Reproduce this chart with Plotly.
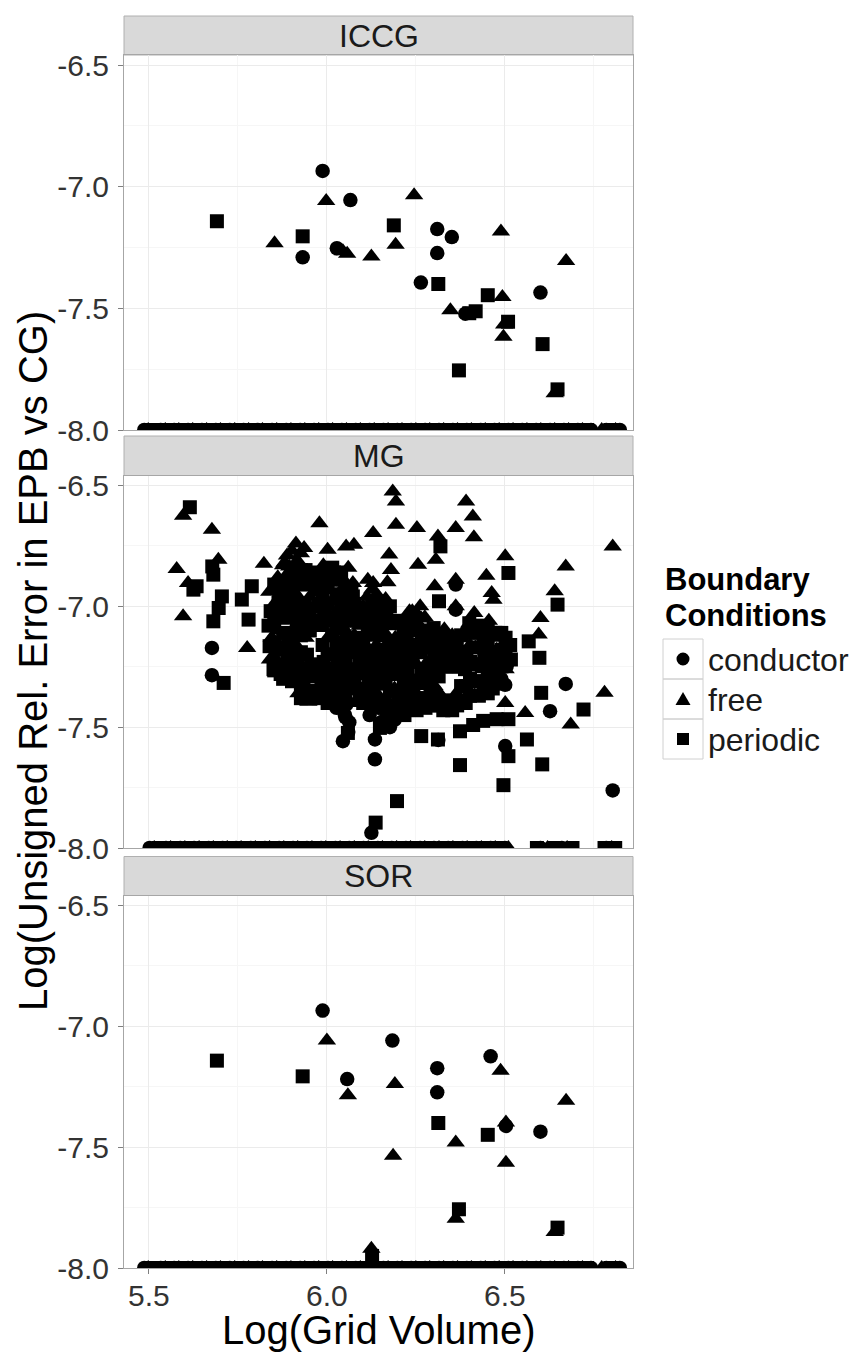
import plotly.graph_objects as go

# ---------------- data ----------------
facets = ["ICCG", "MG", "SOR"]
conditions = ["conductor", "free", "periodic"]
symbols = {"conductor": "circle", "free": "triangle-up", "periodic": "square"}

x_ticks = [5.5, 6.0, 6.5]
x_tick_text = ["5.5", "6.0", "6.5"]
x_minor = [5.75, 6.25, 6.75]
y_ticks = [-8.0, -7.5, -7.0, -6.5]
y_tick_text = ["-8.0", "-7.5", "-7.0", "-6.5"]
y_minor = [-7.75, -7.25, -6.75]

x_title = "Log(Grid Volume)"
y_title = "Log(Unsigned Rel. Error in EPB vs CG)"
legend_title = ["Boundary", "Conditions"]

floor_value = -8.0  # errors at/below the floor of the scale

# ICCG
iccg_conductor = [(5.932, -7.290), (5.988, -6.935), (6.066, -7.055), (6.028, -7.253),
                  (6.310, -7.174), (6.351, -7.207), (6.310, -7.273), (6.264, -7.394),
                  (6.389, -7.522), (6.600, -7.435)]
iccg_free = [(5.853, -7.232), (5.998, -7.059), (6.057, -7.276), (6.045, -7.265),
             (6.125, -7.287), (6.193, -7.239), (6.245, -7.035), (6.347, -7.508),
             (6.493, -7.453), (6.489, -7.184), (6.498, -7.566), (6.496, -7.617),
             (6.672, -7.305), (6.640, -7.849)]
iccg_periodic = [(5.691, -7.142), (5.932, -7.204), (6.188, -7.159), (6.313, -7.400),
                 (6.418, -7.512), (6.400, -7.520), (6.452, -7.446), (6.509, -7.555),
                 (6.371, -7.755), (6.606, -7.647), (6.648, -7.833)]

# SOR
sor_conductor = [(5.988, -6.935), (6.057, -7.218), (6.184, -7.059), (6.310, -7.173),
                 (6.310, -7.273), (6.460, -7.124), (6.503, -7.412), (6.600, -7.436)]
sor_free = [(6.000, -7.059), (6.059, -7.285), (6.191, -7.239), (6.186, -7.536),
            (6.362, -7.481), (6.362, -7.796), (6.488, -7.184), (6.503, -7.398),
            (6.503, -7.564), (6.672, -7.308), (6.640, -7.851), (6.125, -7.920)]
sor_periodic = [(5.691, -7.142), (5.932, -7.207), (6.313, -7.400), (6.371, -7.757),
                (6.452, -7.449), (6.648, -7.833), (6.127, -7.950)]

# MG
mg_conductor = [(5.677, -7.172), (5.677, -7.285), (6.050, -7.448), (6.045, -7.558),
                (6.054, -7.407), (6.135, -7.633), (6.135, -7.551), (6.125, -7.937),
                (6.362, -6.910), (6.362, -7.014), (6.505, -7.248), (6.671, -7.321),
                (6.627, -7.434), (6.501, -7.578), (6.803, -7.762), (6.501, -7.325),
                (6.394, -7.097), (6.040, -7.350), (6.045, -7.400), (6.063, -7.480),
                (6.120, -7.450), (6.145, -7.420), (6.190, -7.470), (6.490, -7.300),
                (6.313, -7.553), (6.060, -7.520)]
mg_conductor_dense = [(6.027, -7.42), (6.052, -7.38), (6.052, -7.46), (6.127, -7.41),
                      (6.152, -7.48), (6.177, -7.50)]
mg_free = [(5.596, -6.625), (5.677, -6.683), (5.578, -6.846), (5.610, -6.904),
           (5.695, -6.807), (5.823, -6.824), (5.979, -6.656), (5.936, -6.759),
           (6.002, -6.766), (6.054, -6.752), (6.076, -6.745), (6.130, -6.697),
           (5.596, -7.041), (5.776, -7.172), (5.856, -6.917), (5.894, -6.835),
           (6.073, -6.904), (6.130, -6.904), (5.950, -6.876), (5.979, -6.904),
           (5.948, -7.395), (6.185, -6.525), (6.194, -6.566), (6.391, -6.566),
           (6.410, -6.628), (6.194, -6.662), (6.253, -6.676), (6.362, -6.676),
           (6.413, -6.714), (6.312, -6.711), (6.175, -6.786), (6.306, -6.807),
           (6.256, -6.828), (6.501, -6.793), (6.671, -6.835), (6.803, -6.752),
           (6.448, -6.873), (6.362, -6.890), (6.303, -6.917), (6.463, -6.945),
           (6.468, -6.973), (6.362, -7.000), (6.414, -7.028), (6.640, -6.938),
           (6.600, -7.048), (6.595, -7.117), (6.251, -7.062), (6.180, -6.850),
           (6.170, -6.900), (6.780, -7.358), (6.501, -7.400), (6.557, -7.441),
           (6.685, -7.489), (5.881, -6.820), (6.232, -7.020), (6.262, -7.000),
           (6.275, -7.045), (6.330, -7.095), (6.455, -7.060), (6.060, -6.840),
           (5.838, -6.940), (5.845, -7.130), (5.840, -7.220), (5.862, -6.880),
           (5.864, -7.100), (5.862, -7.240), (5.888, -6.790), (5.892, -6.860),
           (5.889, -7.060), (5.893, -7.270), (5.913, -6.740), (5.917, -6.810),
           (5.914, -6.950), (5.913, -7.160), (5.920, -7.360), (5.943, -6.920),
           (5.940, -7.130), (5.942, -7.330), (5.963, -7.000), (5.964, -7.300),
           (5.990, -6.830), (5.990, -7.090), (5.993, -7.370), (6.013, -6.980),
           (6.014, -7.190), (6.042, -6.930), (6.041, -7.140), (6.065, -6.990),
           (6.066, -7.200), (6.092, -7.080), (6.090, -7.290), (6.115, -6.890),
           (6.113, -6.960), (6.114, -7.170), (6.140, -6.950), (6.139, -7.160),
           (6.140, -7.360), (6.165, -6.970), (6.163, -7.110), (6.192, -7.130),
           (6.190, -7.340), (6.213, -7.240), (6.240, -7.020), (6.242, -7.090),
           (6.240, -7.300), (6.265, -7.050), (6.265, -7.330), (6.292, -7.220),
           (6.315, -7.150), (6.316, -7.360), (6.342, -7.230), (6.364, -7.360),
           (6.390, -7.120), (6.417, -7.170), (6.415, -7.370), (6.438, -7.260),
           (6.465, -7.130), (6.488, -7.250)]
mg_free_dense = [(5.852, -6.99), (5.852, -7.21), (5.877, -6.83), (5.877, -7.03),
                 (5.877, -7.23), (5.902, -6.77), (5.902, -6.90), (5.902, -7.10),
                 (5.927, -6.78), (5.927, -6.98), (5.927, -7.26), (5.952, -6.96),
                 (5.952, -7.23), (5.977, -6.94), (5.977, -7.33), (6.002, -6.86),
                 (6.002, -7.13), (6.027, -7.02), (6.027, -7.23), (6.052, -6.90),
                 (6.052, -7.10), (6.077, -7.12), (6.077, -7.40), (6.102, -7.00),
                 (6.102, -7.27), (6.127, -6.93), (6.127, -7.13), (6.152, -7.05),
                 (6.152, -7.33), (6.177, -7.14), (6.202, -7.08), (6.202, -7.29),
                 (6.227, -7.13), (6.227, -7.41), (6.252, -7.03), (6.252, -7.24),
                 (6.277, -7.24), (6.302, -7.12), (6.302, -7.33), (6.327, -7.26),
                 (6.352, -7.12), (6.377, -7.26), (6.402, -7.16), (6.427, -7.10),
                 (6.452, -7.23), (6.477, -7.18), (6.502, -7.26)]
mg_periodic = [(5.615, -6.590), (5.625, -6.931), (5.634, -6.917), (5.678, -6.835),
               (5.681, -6.869), (5.988, -6.876), (6.021, -6.890), (5.705, -6.959),
               (5.696, -7.007), (5.681, -7.062), (5.839, -7.165), (6.073, -6.959),
               (5.780, -7.055), (5.761, -6.972), (5.789, -6.917), (5.864, -6.986),
               (5.710, -7.317), (5.998, -7.364), (6.007, -7.282), (6.059, -7.524),
               (6.149, -7.503), (6.137, -7.895), (6.319, -6.752), (6.510, -6.862),
               (6.315, -6.979), (6.648, -6.993), (6.567, -7.145), (6.597, -7.213),
               (6.473, -7.110), (6.416, -7.110), (6.602, -7.358), (6.721, -7.427),
               (6.562, -7.551), (6.510, -7.620), (6.605, -7.654), (6.374, -7.657),
               (6.496, -7.740), (6.197, -7.806), (6.265, -7.537), (6.312, -7.551),
               (6.374, -7.517), (6.411, -7.491), (6.439, -7.474), (6.477, -7.467),
               (6.510, -7.467), (6.069, -6.945),
               (5.842, -7.020), (5.836, -7.080), (5.850, -7.260), (5.866, -6.960),
               (5.868, -7.040), (5.867, -7.180), (5.870, -7.280), (5.890, -6.930),
               (5.893, -7.000), (5.891, -7.130), (5.890, -7.200), (5.915, -6.880),
               (5.918, -7.020), (5.916, -7.090), (5.917, -7.220), (5.915, -7.300),
               (5.940, -6.850), (5.938, -6.990), (5.942, -7.060), (5.944, -7.200),
               (5.940, -7.270), (5.965, -6.860), (5.967, -6.930), (5.966, -7.070),
               (5.968, -7.240), (5.966, -7.360), (5.988, -6.950), (5.992, -7.020),
               (5.988, -7.160), (5.991, -7.230), (5.990, -7.300), (6.015, -6.840),
               (6.017, -7.050), (6.015, -7.120), (6.016, -7.260), (6.018, -7.330),
               (6.015, -7.390), (6.040, -6.860), (6.040, -7.000), (6.043, -7.070),
               (6.039, -7.210), (6.042, -7.280), (6.067, -7.060), (6.064, -7.130),
               (6.068, -7.270), (6.065, -7.340), (6.090, -7.010), (6.088, -7.150),
               (6.091, -7.220), (6.092, -7.360), (6.117, -7.030), (6.115, -7.100),
               (6.116, -7.240), (6.118, -7.310), (6.115, -7.380), (6.142, -7.020),
               (6.140, -7.090), (6.143, -7.230), (6.141, -7.300), (6.167, -7.040),
               (6.166, -7.180), (6.168, -7.250), (6.165, -7.320), (6.163, -7.400),
               (6.167, -7.470), (6.190, -7.060), (6.188, -7.200), (6.191, -7.270),
               (6.192, -7.410), (6.215, -7.100), (6.217, -7.170), (6.216, -7.310),
               (6.215, -7.380), (6.218, -7.450), (6.238, -7.160), (6.241, -7.230),
               (6.243, -7.370), (6.240, -7.420), (6.267, -7.120), (6.264, -7.190),
               (6.266, -7.260), (6.268, -7.400), (6.290, -7.150), (6.288, -7.290),
               (6.291, -7.360), (6.290, -7.410), (6.317, -7.220), (6.314, -7.290),
               (6.315, -7.410), (6.340, -7.160), (6.338, -7.400), (6.365, -7.150),
               (6.367, -7.220), (6.366, -7.410), (6.392, -7.190), (6.388, -7.260),
               (6.391, -7.330), (6.390, -7.400), (6.415, -7.100), (6.414, -7.240),
               (6.416, -7.310), (6.440, -7.120), (6.442, -7.190), (6.441, -7.330),
               (6.467, -7.200), (6.464, -7.270), (6.466, -7.340), (6.490, -7.110),
               (6.492, -7.180), (6.515, -7.160), (6.517, -7.220), (6.300, -7.090),
               (6.400, -7.070), (6.430, -7.080), (6.020, -6.860)]
mg_periodic_dense = [(5.852, -6.91), (5.852, -7.06), (5.852, -7.15), (5.852, -7.265),
                     (5.877, -6.90), (5.877, -6.97), (5.877, -7.11), (5.877, -7.17),
                     (5.877, -7.30), (5.902, -6.84), (5.902, -6.97), (5.902, -7.04),
                     (5.902, -7.17), (5.902, -7.24), (5.902, -7.31), (5.927, -6.85),
                     (5.927, -6.91), (5.927, -7.05), (5.927, -7.12), (5.927, -7.19),
                     (5.927, -7.33), (5.927, -7.38), (5.952, -6.89), (5.952, -7.03),
                     (5.952, -7.10), (5.952, -7.29), (5.952, -7.35), (5.977, -6.87),
                     (5.977, -7.00), (5.977, -7.06), (5.977, -7.26), (5.977, -7.38),
                     (6.002, -6.92), (6.002, -6.99), (6.002, -7.06), (6.002, -7.20),
                     (6.002, -7.27), (6.002, -7.34), (6.002, -7.40), (6.027, -6.88),
                     (6.027, -6.95), (6.027, -7.09), (6.027, -7.16), (6.027, -7.30),
                     (6.027, -7.37), (6.052, -6.97), (6.052, -7.03), (6.052, -7.17),
                     (6.052, -7.24), (6.052, -7.31), (6.077, -6.99), (6.077, -7.05),
                     (6.077, -7.19), (6.077, -7.26), (6.077, -7.33), (6.102, -7.06),
                     (6.102, -7.13), (6.102, -7.20), (6.102, -7.34), (6.102, -7.40),
                     (6.127, -6.99), (6.127, -7.06), (6.127, -7.20), (6.127, -7.27),
                     (6.127, -7.34), (6.152, -6.98), (6.152, -7.12), (6.152, -7.19),
                     (6.152, -7.26), (6.152, -7.40), (6.177, -7.00), (6.177, -7.07),
                     (6.177, -7.21), (6.177, -7.28), (6.177, -7.35), (6.177, -7.42),
                     (6.202, -7.15), (6.202, -7.22), (6.202, -7.36), (6.202, -7.43),
                     (6.227, -7.06), (6.227, -7.20), (6.227, -7.27), (6.227, -7.34),
                     (6.252, -7.10), (6.252, -7.17), (6.252, -7.31), (6.252, -7.38),
                     (6.252, -7.43), (6.277, -7.10), (6.277, -7.17), (6.277, -7.31),
                     (6.277, -7.38), (6.277, -7.42), (6.302, -7.19), (6.302, -7.26),
                     (6.302, -7.40), (6.327, -7.13), (6.327, -7.20), (6.327, -7.39),
                     (6.327, -7.43), (6.352, -7.19), (6.352, -7.25), (6.352, -7.39),
                     (6.352, -7.43), (6.377, -7.12), (6.377, -7.19), (6.377, -7.33),
                     (6.377, -7.40), (6.402, -7.09), (6.402, -7.23), (6.402, -7.30),
                     (6.402, -7.37), (6.427, -7.17), (6.427, -7.24), (6.427, -7.31),
                     (6.427, -7.37), (6.452, -7.10), (6.452, -7.17), (6.452, -7.30),
                     (6.452, -7.36), (6.477, -7.11), (6.477, -7.25), (6.477, -7.32),
                     (6.502, -7.13), (6.502, -7.20)]

# grid volumes whose error sits on the -8.0 floor (ICCG and SOR share them)
floor_conductor_x = [5.487, 5.533, 5.571, 5.610, 5.649, 5.688, 5.727, 5.766, 5.806,
                     5.846, 5.886, 5.925, 5.964, 6.003, 6.042, 6.081, 6.120, 6.159,
                     6.198, 6.237, 6.276, 6.315, 6.354, 6.393, 6.432, 6.471, 6.510,
                     6.549, 6.588, 6.627, 6.666, 6.705, 6.742, 6.785, 6.823]
floor_free_x = [5.498, 5.546, 5.584, 5.623, 5.662, 5.701, 5.741, 5.780, 5.819, 5.859,
                5.899, 5.938, 5.977, 6.016, 6.055, 6.094, 6.133, 6.172, 6.211, 6.250,
                6.289, 6.328, 6.367, 6.406, 6.445, 6.484, 6.523, 6.562, 6.601, 6.640,
                6.679, 6.718, 6.772, 6.811]
floor_periodic_x = [5.509, 5.521, 5.558, 5.596, 5.636, 5.674, 5.713, 5.754, 5.793,
                    5.833, 5.872, 5.912, 5.951, 5.990, 6.029, 6.068, 6.107, 6.146,
                    6.185, 6.224, 6.263, 6.302, 6.341, 6.380, 6.419, 6.458, 6.497,
                    6.536, 6.575, 6.614, 6.653, 6.692, 6.731, 6.798]
mg_floor_conductor_x = [5.502, 5.548, 5.588, 5.627, 5.668, 5.707, 5.745, 5.786, 5.826,
                        5.866, 5.905, 5.944, 5.984, 6.024, 6.063, 6.103, 6.143, 6.182,
                        6.222, 6.262, 6.301, 6.341, 6.381, 6.420, 6.460, 6.500, 6.600,
                        6.660, 6.785]
mg_floor_free_x = [5.515, 5.561, 5.601, 5.641, 5.681, 5.720, 5.759, 5.799, 5.839,
                   5.879, 5.918, 5.958, 5.997, 6.037, 6.077, 6.116, 6.156, 6.196,
                   6.235, 6.275, 6.315, 6.354, 6.394, 6.434, 6.473, 6.510, 6.620,
                   6.675, 6.800]
mg_floor_periodic_x = [5.528, 5.574, 5.614, 5.654, 5.694, 5.733, 5.772, 5.812, 5.852,
                       5.892, 5.931, 5.971, 6.010, 6.050, 6.090, 6.129, 6.169, 6.209,
                       6.248, 6.288, 6.328, 6.367, 6.407, 6.447, 6.486, 6.590, 6.640,
                       6.690, 6.780, 6.810]

# ---------------- assemble ----------------
points = {
    "ICCG": {"conductor": (iccg_conductor, floor_conductor_x),
             "free": (iccg_free, floor_free_x),
             "periodic": (iccg_periodic, floor_periodic_x)},
    "MG": {"conductor": (mg_conductor + mg_conductor_dense, mg_floor_conductor_x),
           "free": (mg_free + mg_free_dense, mg_floor_free_x),
           "periodic": (mg_periodic + mg_periodic_dense, mg_floor_periodic_x)},
    "SOR": {"conductor": (sor_conductor, floor_conductor_x),
            "free": (sor_free, floor_free_x),
            "periodic": (sor_periodic, floor_periodic_x)},
}

FONT = "Liberation Sans, Arial, Helvetica, sans-serif"
OFF = 8  # page body margin in the browser
W, H = 860 - 2 * OFF, 1355 - OFF
REF_L, REF_R, REF_T, REF_B = 124, 633, 16, 1268   # plot area in screen pixels
ML, MT = REF_L - OFF, REF_T - OFF
MR, MB = W - (REF_R - OFF), H - (REF_B - OFF)
PW = REF_R - REF_L
PH = REF_B - REF_T


def pyp(p):  # screen pixel y -> paper
    return (REF_B - p) / PH


def pxp(p):  # screen pixel x -> paper
    return (p - REF_L) / PW


# (strip top, strip bottom/panel top, panel bottom) in screen pixels
panel_px = [(16, 55, 430), (436, 475.5, 848), (856.5, 895.5, 1268)]
marker_sizes = {"conductor": 14.5, "free": 16, "periodic": 14}

fig = go.Figure()
for k, facet in enumerate(facets, start=1):
    for cond in conditions:
        pts, floor_x = points[facet][cond]
        xs = [p[0] for p in pts] + list(floor_x)
        ys = [p[1] for p in pts] + [floor_value] * len(floor_x)
        fig.add_trace(go.Scatter(
            x=xs, y=ys, mode="markers", name=cond,
            legendgroup=cond, showlegend=False,
            xaxis="x" if k == 1 else f"x{k}",
            yaxis="y" if k == 1 else f"y{k}",
            marker=dict(symbol=symbols[cond], size=marker_sizes[cond],
                        color="black", line=dict(width=0)),
            hoverinfo="skip",
        ))

layout = dict(
    width=W, height=H, autosize=False,
    margin=dict(l=ML, r=MR, t=MT, b=MB, pad=0, autoexpand=False),
    paper_bgcolor="white", plot_bgcolor="white",
    font=dict(family=FONT, color="#1a1a1a"),
    showlegend=False,
)

shapes = []
annotations = []
for k, facet in enumerate(facets, start=1):
    st, pt, pb = panel_px[k - 1]
    xa = "xaxis" if k == 1 else f"xaxis{k}"
    ya = "yaxis" if k == 1 else f"yaxis{k}"
    layout[xa] = dict(
        domain=[0, 1], anchor="y" if k == 1 else f"y{k}", automargin=False,
        range=[5.43, 6.86], tickvals=x_ticks, ticktext=x_tick_text,
        showticklabels=(k == 3), ticks="outside" if k == 3 else "",
        ticklen=5, tickwidth=1, tickcolor="#7f7f7f",
        tickfont=dict(family=FONT, size=30, color="#333333"),
        ticklabelstandoff=-4,
        showgrid=True, gridcolor="#ebebeb", gridwidth=1,
        minor=dict(tickvals=x_minor, showgrid=True, gridcolor="#f6f6f6",
                   gridwidth=1, ticks=""),
        showline=True, linecolor="#a6a6a6", linewidth=1, mirror=True,
        zeroline=False, fixedrange=True,
    )
    layout[ya] = dict(
        domain=[pyp(pb), pyp(pt)], anchor="x" if k == 1 else f"x{k}",
        automargin=False,
        range=[-8.0, -6.4587], tickvals=y_ticks, ticktext=y_tick_text,
        ticks="outside", ticklen=5, tickwidth=1, tickcolor="#7f7f7f",
        tickfont=dict(family=FONT, size=30, color="#333333"),
        ticklabelstandoff=3,
        showgrid=True, gridcolor="#ebebeb", gridwidth=1,
        minor=dict(tickvals=y_minor, showgrid=True, gridcolor="#f6f6f6",
                   gridwidth=1, ticks=""),
        showline=True, linecolor="#a6a6a6", linewidth=1, mirror=True,
        zeroline=False, fixedrange=True,
    )
    # facet strip
    shapes.append(dict(type="rect", xref="paper", yref="paper",
                       x0=0, x1=1, y0=pyp(pt), y1=pyp(st),
                       fillcolor="#d9d9d9", line=dict(color="#b0b0b0", width=1),
                       layer="below"))
    annotations.append(dict(text=facet, xref="paper", yref="paper",
                            x=0.5, y=pyp((st + pt) / 2), xanchor="center",
                            yanchor="middle", showarrow=False,
                            font=dict(family=FONT, size=32, color="#1a1a1a")))

# axis titles
annotations.append(dict(text=x_title, xref="paper", yref="paper",
                        x=pxp(378), y=pyp(1330), xanchor="center", yanchor="middle",
                        showarrow=False,
                        font=dict(family=FONT, size=40, color="#000000")))
annotations.append(dict(text=y_title, xref="paper", yref="paper",
                        x=pxp(33), y=pyp(661), xanchor="center", yanchor="middle",
                        textangle=-90, showarrow=False,
                        font=dict(family=FONT, size=40, color="#000000")))

# legend: title, key boxes, key glyphs, labels
for line, ypix in zip(legend_title, [579, 615]):
    annotations.append(dict(text=f"<b>{line}</b>", xref="paper", yref="paper",
                            x=pxp(663), y=pyp(ypix), xanchor="left", yanchor="middle",
                            height=35, valign="middle", showarrow=False,
                            font=dict(family=FONT, size=31, color="#000000")))
key_left, key_right, key_top, key_h = 663, 703, 639, 40
for i, cond in enumerate(conditions):
    top = key_top + key_h * i
    cy = top + key_h / 2
    cx = (key_left + key_right) / 2
    shapes.append(dict(type="rect", xref="paper", yref="paper",
                       x0=pxp(key_left), x1=pxp(key_right),
                       y0=pyp(top + key_h), y1=pyp(top),
                       fillcolor="rgba(0,0,0,0)",
                       line=dict(color="#d0d0d0", width=1), layer="below"))
    if cond == "conductor":
        shapes.append(dict(type="circle", xref="paper", yref="paper",
                           x0=pxp(cx - 6.5), x1=pxp(cx + 6.5),
                           y0=pyp(cy + 6.5), y1=pyp(cy - 6.5),
                           fillcolor="black", line=dict(width=0), layer="above"))
    elif cond == "free":
        path = (f"M {pxp(cx - 7.5)},{pyp(cy + 6)} L {pxp(cx + 7.5)},{pyp(cy + 6)} "
                f"L {pxp(cx)},{pyp(cy - 7)} Z")
        shapes.append(dict(type="path", xref="paper", yref="paper", path=path,
                           fillcolor="black", line=dict(width=0), layer="above"))
    else:
        shapes.append(dict(type="rect", xref="paper", yref="paper",
                           x0=pxp(cx - 6), x1=pxp(cx + 6),
                           y0=pyp(cy + 6), y1=pyp(cy - 6),
                           fillcolor="black", line=dict(width=0), layer="above"))
    annotations.append(dict(text=cond, xref="paper", yref="paper",
                            x=pxp(706), y=pyp(cy + 1), xanchor="left",
                            yanchor="middle", showarrow=False,
                            font=dict(family=FONT, size=32, color="#1a1a1a")))

layout["shapes"] = shapes
layout["annotations"] = annotations
fig.update_layout(**layout)

fig.write_html("out.html")
